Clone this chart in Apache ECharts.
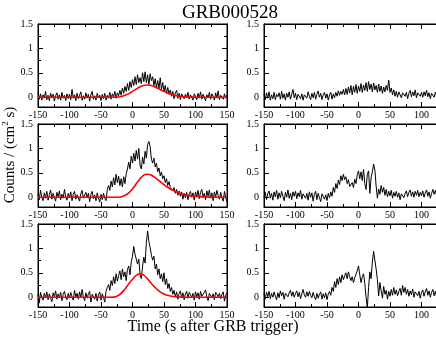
<!DOCTYPE html>
<html><head><meta charset="utf-8">
<script src="https://cdn.jsdelivr.net/npm/echarts@6/dist/echarts.min.js"></script>
<style>html,body{margin:0;padding:0;background:#fff}#c{width:436px;height:337px}</style>
</head><body><div id="c"></div>
<script>
// Black light curves: 2 s bins starting at -150 s
const BIN_START = -150, BIN_WIDTH = 2;
const topLeft = [
0.10,-0.04,0.07,-0.06,0.05,-0.02,0.12,-0.05,0.04,-0.07,0.08,-0.01,0.06,-0.08,0.03,0.09,-0.04,0.05,-0.06,0.10,-0.02,0.04,-0.07,0.07,-0.03,
0.06,-0.05,0.16,-0.02,0.05,-0.07,0.08,-0.03,0.04,0.11,-0.06,0.03,-0.04,0.09,-0.02,0.06,-0.08,0.05,0.12,-0.04,0.03,-0.06,0.08,-0.01,0.04,
-0.07,0.06,-0.03,0.08,-0.06,0.04,-0.02,0.10,-0.04,0.07,0.01,0.12,-0.02,0.09,0.03,
0.14,0.04,0.19,0.08,0.22,0.12,0.28,0.14,0.32,0.20,0.36,
0.24,0.42,0.26,0.46,0.30,0.40,0.28,0.50,0.32,0.52,0.30,0.46,0.26,0.48,0.34,
0.42,0.24,0.38,0.20,0.34,0.18,0.40,0.16,0.30,0.12,0.24,0.08,0.20,0.06,0.15,
0.02,0.12,-0.03,0.09,0.14,-0.02,0.08,-0.05,0.07,0.11,-0.03,0.06,-0.01,0.10,-0.04,0.05,0.09,-0.06,0.07,0.02,
-0.05,0.08,-0.02,0.11,-0.04,0.06,0.09,-0.07,0.05,-0.01,0.10,-0.04,0.07,0.02,-0.06,0.09,-0.02,0.13,-0.05,0.04,0.08,-0.04,0.07,-0.02,0.05];
const topRight = [
0.07,-0.05,0.09,-0.02,0.11,-0.06,0.05,-0.03,0.10,-0.05,0.06,0.01,0.09,-0.04,0.12,-0.02,0.07,-0.06,0.08,0.00,0.11,-0.04,0.06,0.16,-0.01,
0.08,-0.05,0.06,0.10,-0.03,0.07,-0.06,0.05,0.09,-0.02,0.11,0.02,-0.05,0.08,-0.01,0.10,-0.04,0.06,0.13,0.00,0.08,-0.05,0.05,0.10,-0.02,
0.07,-0.06,0.05,0.10,-0.04,0.07,-0.01,0.10,0.02,0.13,0.04,0.12,0.06,0.16,0.05,
0.18,0.06,0.21,0.09,0.24,0.05,0.22,0.10,0.26,0.08,0.23,
0.12,0.28,0.10,0.25,0.14,0.30,0.12,0.32,0.16,0.27,0.11,0.29,0.15,0.24,0.10,
0.27,0.12,0.23,0.08,0.21,0.11,0.24,0.14,0.35,0.10,0.19,0.05,0.15,0.02,0.12,
0.00,0.11,0.15,-0.01,0.09,0.13,0.02,0.10,-0.03,0.08,0.14,0.01,0.11,0.03,0.15,-0.01,0.09,0.12,0.02,0.10,
0.00,0.11,0.03,0.14,0.01,0.09,-0.03,0.08,0.12,0.00,0.10,0.02,0.13,-0.02,0.08,0.11,0.01,0.09,-0.01,0.10,0.03,0.12,0.00,0.08,0.02];
const midLeft = [
0.07,-0.05,0.14,0.00,-0.07,0.09,-0.02,0.12,-0.06,0.05,0.15,-0.04,0.08,-0.01,-0.08,0.10,0.01,0.13,-0.05,0.06,-0.02,0.16,0.00,-0.06,0.08,
-0.01,0.11,-0.07,0.06,0.12,-0.04,0.05,0.09,-0.08,0.07,0.14,-0.02,-0.05,0.10,0.00,0.08,-0.09,0.06,0.12,-0.03,0.05,-0.07,0.09,-0.01,-0.10,
0.06,-0.05,0.08,-0.02,-0.07,0.16,0.24,0.14,0.33,0.21,0.40,0.25,0.47,0.30,0.43,
0.24,0.38,0.21,0.42,0.28,0.48,0.58,0.72,0.58,0.84,0.70,
0.90,0.74,0.96,0.78,1.00,0.66,0.58,0.82,0.68,0.94,0.80,1.08,1.14,1.04,0.78,
0.70,0.80,0.62,0.70,0.52,0.60,0.44,0.52,0.38,0.44,0.30,0.38,0.24,0.32,0.20,
0.22,0.13,0.20,0.08,0.16,0.04,0.13,0.02,0.11,-0.04,0.08,-0.01,0.10,-0.05,0.07,0.12,0.00,0.09,-0.06,0.11,
0.01,0.14,-0.03,0.10,0.16,0.00,0.08,-0.05,0.13,0.02,0.15,-0.02,0.09,-0.07,0.11,0.01,0.14,0.03,-0.04,0.10,-0.01,-0.08,0.12,0.00,-0.10];
const midRight = [
0.00,0.10,-0.05,0.07,0.13,-0.02,0.08,-0.06,0.11,0.01,0.14,-0.04,0.09,-0.01,0.12,0.02,-0.07,0.10,0.00,0.15,-0.02,0.08,-0.05,0.11,0.02,
0.12,-0.03,0.09,0.01,0.14,-0.04,0.07,0.10,-0.02,0.08,-0.06,0.11,0.00,0.09,-0.08,0.06,0.12,-0.05,0.08,-0.01,-0.09,0.07,0.10,-0.04,0.05,
-0.07,0.08,-0.01,0.11,0.02,0.20,0.10,0.28,0.18,0.35,0.26,0.44,0.34,0.47,0.36,
0.42,0.28,0.36,0.22,0.18,0.30,0.20,0.37,0.28,0.46,0.54,
0.38,0.52,0.34,0.57,0.28,0.16,0.47,0.54,0.08,0.40,0.52,0.68,0.56,0.23,-0.02,
0.17,0.06,0.24,0.10,0.20,0.04,0.16,0.01,0.12,0.03,0.14,-0.02,0.10,0.02,0.12,
0.00,0.09,-0.05,0.07,0.11,-0.01,0.08,0.13,0.01,0.10,0.15,0.02,0.11,0.00,0.12,0.04,0.14,0.01,0.10,0.03,
0.13,0.00,0.09,0.15,0.02,0.11,-0.02,0.08,0.16,0.06,0.14,0.03,0.12,0.17,0.05,0.13,0.02,0.11,0.15,0.04,0.12,0.01,0.10,0.14,0.03];
const botLeft = [
0.06,-0.12,0.10,0.00,-0.06,0.08,-0.01,0.11,-0.05,0.07,-0.02,-0.09,0.09,0.01,0.13,-0.04,0.07,-0.01,0.10,-0.07,0.06,0.12,0.00,-0.05,0.08,
-0.02,0.10,0.01,-0.06,0.14,0.00,0.08,-0.04,0.11,-0.01,0.16,0.01,-0.07,0.09,-0.02,0.07,0.12,-0.10,0.06,0.10,-0.04,0.08,-0.08,0.05,0.11,
-0.06,0.07,0.00,-0.10,0.12,0.20,0.26,0.14,0.34,0.24,0.42,0.28,0.48,0.33,0.44,
0.54,0.36,0.58,0.42,0.52,0.34,0.57,0.64,0.46,0.72,0.84,
1.04,0.88,0.86,0.68,0.78,0.46,0.38,0.64,0.82,0.70,1.12,1.36,1.14,1.02,0.86,
0.76,0.84,0.58,0.68,0.46,0.58,0.38,0.48,0.32,0.50,0.26,0.38,0.18,0.28,0.12,
0.20,0.06,0.14,0.01,0.11,-0.04,0.08,0.13,-0.01,0.09,-0.05,0.07,0.12,-0.02,0.10,0.14,0.00,0.08,-0.06,0.11,
0.01,0.09,-0.04,0.12,0.02,-0.02,0.10,0.15,0.00,-0.07,0.08,0.11,-0.01,0.07,-0.05,0.10,0.13,0.01,0.08,-0.03,0.06,0.11,-0.08,0.04,0.09];
const botRight = [
0.07,-0.04,0.10,0.01,0.12,-0.03,0.08,0.00,0.11,0.02,-0.05,0.09,-0.01,0.13,0.03,0.10,-0.04,0.08,0.12,0.01,0.09,0.14,0.02,0.11,0.00,
0.08,0.13,0.01,0.10,-0.03,0.07,0.16,0.05,0.00,0.11,0.02,0.12,0.04,-0.01,0.10,0.01,-0.05,0.08,-0.02,0.06,0.11,-0.04,0.07,-0.01,0.09,
-0.05,0.06,0.12,0.04,0.20,0.12,0.32,0.20,0.38,0.26,0.42,0.30,0.46,0.36,0.44,
0.50,0.38,0.52,0.42,0.34,0.42,0.30,0.40,0.47,0.54,0.64,
0.46,0.30,0.42,0.48,0.28,0.00,-0.22,0.20,0.52,0.38,0.72,0.94,0.76,0.58,0.36,
0.03,0.30,0.13,-0.02,0.22,0.06,0.14,-0.04,0.12,0.02,0.16,0.04,0.20,0.06,0.15,
0.03,0.12,0.18,0.04,0.24,0.10,0.20,0.06,0.16,0.02,0.13,0.05,0.17,0.00,0.11,0.14,0.03,0.12,-0.02,0.10,
0.15,0.02,0.11,0.18,0.04,0.13,0.00,0.10,0.16,0.03,0.12,0.01,0.14,0.05,-0.01,0.11,0.02,0.13,0.04,0.00,0.10,0.03,0.12,0.01,0.09];

// Red model curves: sampled every 5 s starting at -150 s
const FIT_START = -150, FIT_STEP = 5;
const fitTop = [
0,0,0,0,0,0,0,0,0,0,0,0,0,0,0,0,0,0,0,0,0,0,0,0,0,
0.003,0.01,0.025,0.05,0.08,0.12,0.16,0.20,0.23,0.245,0.25,0.24,0.215,0.185,0.15,0.12,0.09,0.065,0.045,0.03,0.02,0.013,0.008,0.005,0.003,
0,0,0,0,0,0,0,0,0,0,0];
const fitMid = [
0,0,0,0,0,0,0,0,0,0,0,0,0,0,0,0,0,0,0,0,0,0,0,0,0,
0,0.005,0.02,0.05,0.10,0.17,0.26,0.35,0.42,0.465,0.47,0.45,0.41,0.36,0.31,0.26,0.21,0.17,0.135,0.105,0.08,0.06,0.045,0.033,0.024,
0.017,0.012,0.008,0.005,0.003,0,0,0,0,0,0];
const fitBot = [
0,0,0,0,0,0,0,0,0,0,0,0,0,0,0,0,0,0,0,0,0,0,0,0,
0.003,0.02,0.06,0.12,0.20,0.29,0.37,0.44,0.475,0.47,0.43,0.36,0.28,0.21,0.15,0.10,0.065,0.04,0.025,0.015,0.008,0.004,
0,0,0,0,0,0,0,0,0,0,0,0,0,0,0];

const xTicks = { min: -150, max: 150, interval: 50 };
const yMajor = [0, 0.5, 1, 1.5];
const yMinor = [0.25, 0.75, 1.25];

function pairs(vals, t0, dt) { return vals.map((v, i) => [t0 + i * dt, v]); }

const panels = [
  { black: topLeft,  red: fitTop, col: 0, row: 0 },
  { black: topRight, red: null,   col: 1, row: 0 },
  { black: midLeft,  red: fitMid, col: 0, row: 1 },
  { black: midRight, red: null,   col: 1, row: 1 },
  { black: botLeft,  red: fitBot, col: 0, row: 2 },
  { black: botRight, red: null,   col: 1, row: 2 }
];
const colLeft = [38, 264], rowTop = [24, 124, 224];
const FONT = '"Liberation Serif","DejaVu Serif",serif';
const grid = [], xAxis = [], yAxis = [], series = [];
panels.forEach((p, gi) => {
  grid.push({ left: colLeft[p.col], top: rowTop[p.row], width: 189, height: 83, show: true,
    borderColor: '#000', borderWidth: 1, backgroundColor: 'transparent', containLabel: false, outerBoundsMode: 'none' });
  const xb = xAxis.length;
  ['bottom', 'top'].forEach((pos, k) => {
    xAxis.push({ type: 'value', gridIndex: gi, position: pos, min: xTicks.min, max: xTicks.max, interval: xTicks.interval,
      axisLine: { show: true, onZero: false, lineStyle: { color: '#000', width: 1 } },
      axisTick: { show: true, inside: true, length: 5, lineStyle: { color: '#000' } },
      minorTick: { show: true, splitNumber: 2, length: 3, lineStyle: { color: '#000' } },
      splitLine: { show: false }, minorSplitLine: { show: false },
      axisLabel: { show: k === 0, color: '#000', fontFamily: FONT, fontSize: 10, margin: 3,
        showMinLabel: true, showMaxLabel: true, hideOverlap: false } });
  });
  const yb = yAxis.length;
  [['left', yMajor, 5, true], ['left', yMinor, 3, false], ['right', yMajor, 5, false], ['right', yMinor, 3, false]].forEach(([pos, vals, len, lab]) => {
    yAxis.push({ type: 'value', gridIndex: gi, position: pos, min: -0.2, max: 1.5,
      axisLine: { show: true, onZero: false, lineStyle: { color: '#000', width: 1 } },
      axisTick: { show: true, inside: true, length: len, customValues: vals, lineStyle: { color: '#000' } },
      splitLine: { show: false },
      axisLabel: { show: lab, customValues: yMajor, color: '#000', fontFamily: FONT, fontSize: 10, margin: 5 } });
  });
  series.push({ type: 'line', xAxisIndex: xb, yAxisIndex: yb, data: pairs(p.black, BIN_START, BIN_WIDTH),
    showSymbol: false, symbol: 'none', lineStyle: { color: '#000', width: 1 }, itemStyle: { color: '#000' }, z: 2 });
  if (p.red) {
    series.push({ type: 'line', xAxisIndex: xb, yAxisIndex: yb, data: pairs(p.red, FIT_START, FIT_STEP),
      showSymbol: false, symbol: 'none', smooth: 0.3, lineStyle: { color: '#ff0000', width: 1.6 }, itemStyle: { color: '#ff0000' }, z: 3 });
  }
});

const chart = echarts.init(document.getElementById('c'), null, { renderer: 'canvas' });
chart.setOption({
  animation: false,
  backgroundColor: '#fff',
  grid, xAxis, yAxis, series,
  graphic: [
    { type: 'text', x: 230, y: 13, style: { text: 'GRB000528', font: '19px ' + FONT, fill: '#000', align: 'center', verticalAlign: 'middle' } },
    { type: 'text', x: 213, y: 327, style: { text: 'Time (s after GRB trigger)', font: '16px ' + FONT, fill: '#000', align: 'center', verticalAlign: 'middle' } },
    { type: 'text', x: 10, y: 155, rotation: Math.PI / 2,
      style: { text: '{a|Counts / (cm}{s|2}{a| s)}', align: 'center', verticalAlign: 'middle', fill: '#000',
        rich: { a: { fontFamily: FONT, fontSize: 15, fill: '#000' }, s: { fontFamily: FONT, fontSize: 9, fill: '#000', padding: [0, 0, 9, 0] } } } }
  ]
});
</script></body></html>
